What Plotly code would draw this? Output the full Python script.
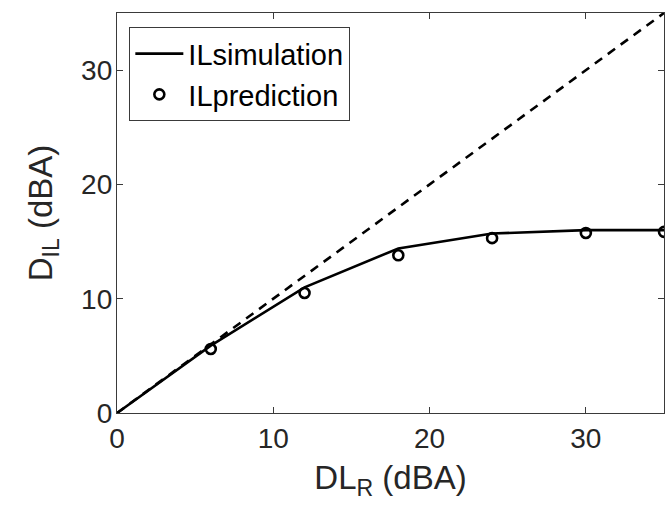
import plotly.graph_objects as go

# Data
dl_r_sim = [0, 6, 12, 18, 24, 30, 35]
il_sim = [0, 5.9, 11.0, 14.4, 15.7, 16.0, 16.0]

dl_r_pred = [6, 12, 18, 24, 30, 35]
il_pred = [5.6, 10.5, 13.8, 15.3, 15.75, 15.85]

ref_x = [0, 35]
ref_y = [0, 35]

x_ticks = [0, 10, 20, 30]
y_ticks = [0, 10, 20, 30]

FONT = "Liberation Sans, Arial, sans-serif"
AXC = "#3a3a3a"
TXT = "#262626"

fig = go.Figure()
fig.add_trace(go.Scatter(x=ref_x, y=ref_y, mode="lines",
                         line=dict(color="black", width=2.6, dash="9px,7px"),
                         showlegend=False, hoverinfo="skip"))
fig.add_trace(go.Scatter(x=dl_r_sim, y=il_sim, mode="lines", name="ILsimulation",
                         line=dict(color="black", width=2.6)))
fig.add_trace(go.Scatter(x=dl_r_pred, y=il_pred, mode="markers", name="ILprediction",
                         marker=dict(symbol="circle-open", size=10, color="black",
                                     line=dict(width=2.6, color="black")),
                         cliponaxis=False))

axis_common = dict(
    showline=True, linecolor=AXC, linewidth=1.3, mirror="ticks",
    ticks="inside", ticklen=6, tickwidth=1.3, tickcolor=AXC,
    showgrid=False, zeroline=False, automargin=False,
    tickfont=dict(family=FONT, size=28, color=TXT),
)

fig.update_layout(
    width=665, height=516,
    margin=dict(l=117, r=1, t=13, b=103),
    paper_bgcolor="white", plot_bgcolor="white",
    font=dict(family=FONT, color=TXT),
    xaxis=dict(range=[0, 35], tickvals=x_ticks, ticktext=[str(v) for v in x_ticks],
               title=dict(text="DL<sub>R</sub> (dBA)", font=dict(family=FONT, size=33, color=TXT),
                          standoff=13),
               **axis_common),
    yaxis=dict(range=[0, 35], tickvals=y_ticks, ticktext=[str(v) for v in y_ticks],
               ticklabelstandoff=-2,
               title=dict(text="D<sub>IL</sub> (dBA)", font=dict(family=FONT, size=33, color=TXT),
                          standoff=18),
               **axis_common),
    legend=dict(x=0.022, y=0.965, xanchor="left", yanchor="top",
                bgcolor="white", bordercolor=AXC, borderwidth=1.3,
                font=dict(family=FONT, size=29, color="black"),
                tracegroupgap=0, itemwidth=48),
    showlegend=True,
)

fig.write_html("out.html", config={"displayModeBar": False},
               post_script="document.body.style.margin='0';document.body.style.overflow='hidden';")
